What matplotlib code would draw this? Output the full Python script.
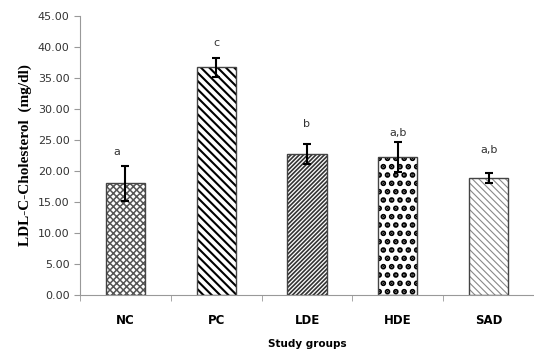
import numpy as np
from matplotlib import pyplot as plt

groups = ["NC", "PC", "LDE", "HDE", "SAD"]
ldl = [18.0, 36.7, 22.7, 22.2, 18.8]
sem = [2.8, 1.6, 1.6, 2.4, 0.8]
letters = ["a", "c", "b", "a,b", "a,b"]

hatches = ["xxxxx", "\\\\\\\\", "////////", "..", "\\\\\\\\\\"]
hatch_colors = ["#555555", "black", "#333333", "black", "#888888"]
hatch_widths = [1.1, 1.5, 1.2, 2.8, 0.8]

fig = plt.figure(figsize=(5.34, 3.51), dpi=100)
ax = fig.add_axes([80 / 534, 56 / 351, 454 / 534, 279 / 351])

x = np.arange(len(groups))
for i in range(len(groups)):
    plt.rcParams["hatch.linewidth"] = hatch_widths[i]
    # hatch takes the edge colour, so draw hatch and outline separately
    ax.bar(x[i], ldl[i], width=0.43, color="white", edgecolor=hatch_colors[i],
           hatch=hatches[i], linewidth=0)
    ax.bar(x[i], ldl[i], width=0.43, fill=False, edgecolor="#444444",
           linewidth=1.0)

ax.errorbar(x, ldl, yerr=sem, fmt="none", ecolor="black", elinewidth=1.5,
            capsize=3, capthick=1.5, zorder=5)

label_y = [22.3, 39.8, 26.7, 25.3, 22.6]
for i in range(len(groups)):
    ax.text(x[i] - (0.1 if i == 0 else 0), label_y[i], letters[i],
            ha="center", va="bottom", fontsize=8, color="#333333")

ax.set_xlim(-0.5, 4.5)
ax.set_ylim(0, 45)
ax.set_yticks(np.arange(0, 46, 5))
ax.set_yticklabels(["%.2f" % v for v in np.arange(0, 46, 5)], fontsize=8,
                   color="#333333")
ax.set_xticks(x)
ax.set_xticklabels(groups, fontsize=8.5, fontweight="bold")
ax.set_xticks(np.arange(-0.5, 4.6, 1), minor=True)
ax.tick_params(axis="x", which="major", length=0, pad=14)
ax.tick_params(axis="x", which="minor", length=4, color="#999999")
ax.tick_params(axis="y", length=4, color="#999999")

for s in ["top", "right"]:
    ax.spines[s].set_visible(False)
for s in ["left", "bottom"]:
    ax.spines[s].set_color("#999999")

ax.set_ylabel("LDL-C-Cholesterol  (mg/dl)", family="Liberation Serif",
              fontweight="bold", fontsize=11)
ax.set_xlabel("Study groups", fontsize=7.5, fontweight="bold", labelpad=8)

plt.savefig("out.png", dpi=100)
